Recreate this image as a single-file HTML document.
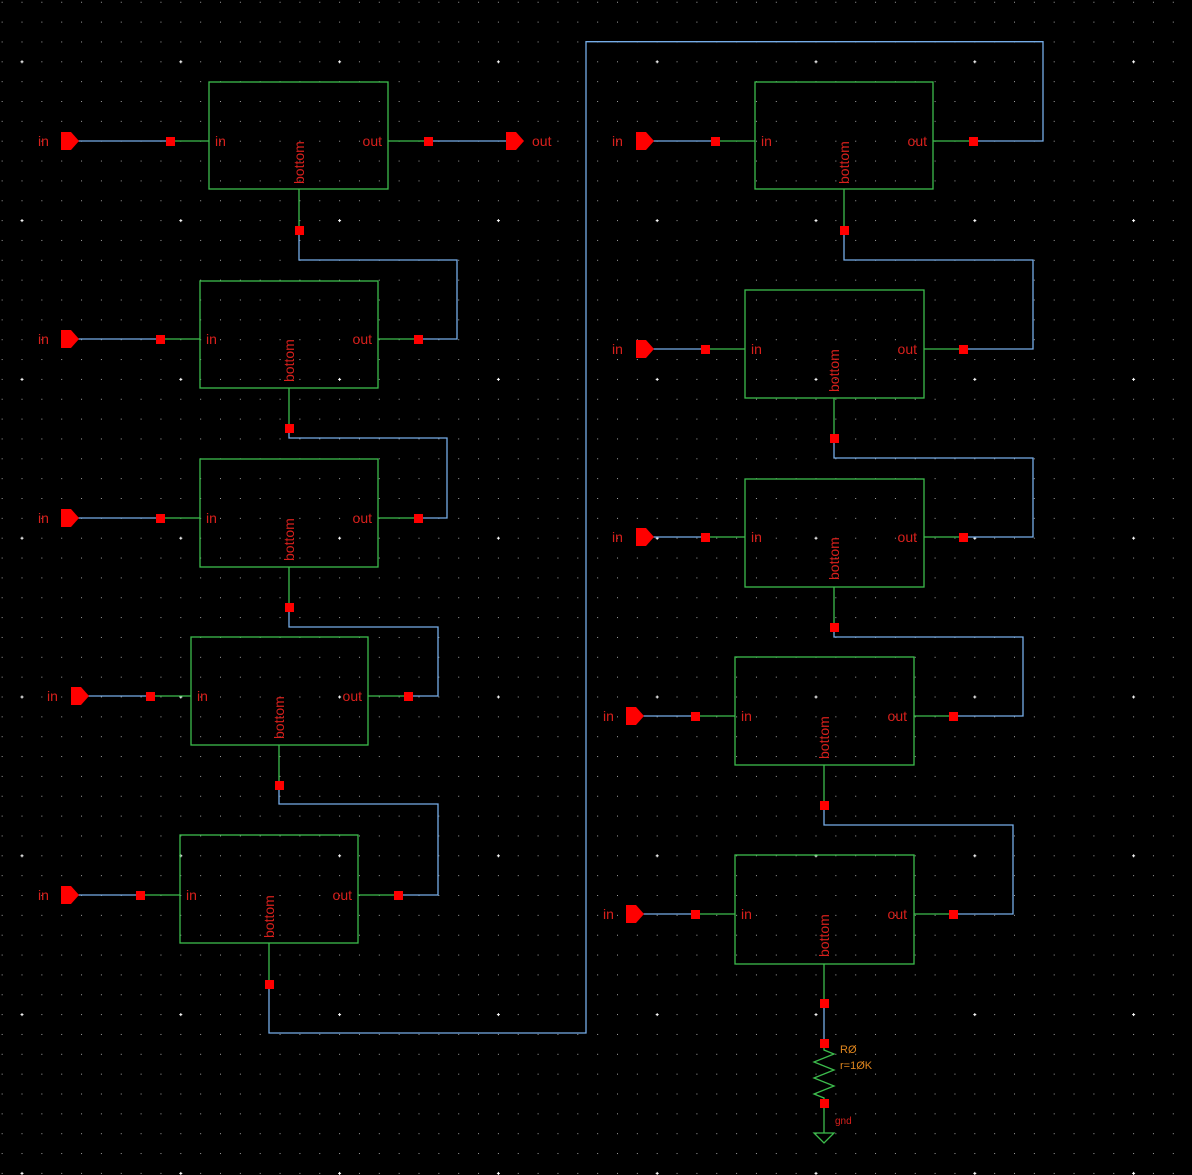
<!DOCTYPE html>
<html><head><meta charset="utf-8"><style>
html,body{margin:0;padding:0;background:#000;}
svg{display:block}
text{font-family:"Liberation Sans",sans-serif;font-size:14px;fill:#d8201c}
</style></head><body>
<svg width="1192" height="1175" viewBox="0 0 1192 1175" xmlns="http://www.w3.org/2000/svg">
<defs>
<pattern id="dots" x="21.5" y="1.75" width="19.85" height="19.85" patternUnits="userSpaceOnUse">
<rect x="0" y="0" width="1" height="1" fill="#a0a0a0"/>
</pattern>
<pattern id="plus" x="20.5" y="60.3" width="158.8" height="158.8" patternUnits="userSpaceOnUse">
<rect x="0" y="1" width="3" height="1" fill="#fff"/><rect x="1" y="0" width="1" height="3" fill="#fff"/>
</pattern>
</defs>
<rect width="1192" height="1175" fill="#000"/>
<rect width="1192" height="1175" fill="url(#dots)"/>
<rect width="1192" height="1175" fill="url(#plus)"/>

<g fill="none" stroke-width="1.3">
<g stroke="#76ade8">
<path d="M78 141H170M428 141H506"/>
<path d="M78 339H160M78 518H160M87 696H150M78 895H140"/>
<path d="M299 230V260H457V339H418"/>
<path d="M289 428V438H447V518H418"/>
<path d="M289 607V627H438V696H408"/>
<path d="M279 785V804H438V895H398"/>
<path d="M269 984V1033H586V41.7H1043V141H973"/>
<path d="M652 141H715M652 349H705M652 537H705M642 716H695M642 914H695"/>
<path d="M844 230V260H1033V349H963"/>
<path d="M834 438V458H1033V537H963"/>
<path d="M834 627V637H1023V716H953"/>
<path d="M824 805V825H1013V914H953"/>
<path d="M824 1003V1043"/>
</g>
<g stroke="#3cbc4c">
<rect x="209" y="82" width="179" height="107"/>
<rect x="200" y="281" width="178" height="107"/>
<rect x="200" y="459" width="178" height="108"/>
<rect x="191" y="637" width="177" height="108"/>
<rect x="180" y="835" width="178" height="108"/>
<rect x="755" y="82" width="178" height="107"/>
<rect x="745" y="290" width="179" height="108"/>
<rect x="745" y="479" width="179" height="108"/>
<rect x="735" y="657" width="179" height="108"/>
<rect x="735" y="855" width="179" height="109"/>
<path d="M170 141H209M388 141H428M299 189V230"/>
<path d="M160 339H200M378 339H418M289 388V428"/>
<path d="M160 518H200M378 518H418M289 567V607"/>
<path d="M150 696H191M368 696H408M279 745V785"/>
<path d="M140 895H180M358 895H398M269 943V984"/>
<path d="M715 141H755M933 141H973M844 189V230"/>
<path d="M705 349H745M924 349H963M834 398V438"/>
<path d="M705 537H745M924 537H963M834 587V627"/>
<path d="M695 716H735M914 716H953M824 765V805"/>
<path d="M695 914H735M914 914H953M824 964V1003"/>
<path d="M824 1043V1050L834 1054L814 1062L834 1070L814 1078L834 1086L814 1094L824 1098V1133"/>
<path d="M814 1133H834L824 1143Z"/>
</g>
</g>

<g fill="#ff0000">
<rect x="166" y="137" width="9" height="9"/><rect x="424" y="137" width="9" height="9"/><rect x="295" y="226" width="9" height="9"/>
<rect x="156" y="335" width="9" height="9"/><rect x="414" y="335" width="9" height="9"/><rect x="285" y="424" width="9" height="9"/>
<rect x="156" y="514" width="9" height="9"/><rect x="414" y="514" width="9" height="9"/><rect x="285" y="603" width="9" height="9"/>
<rect x="146" y="692" width="9" height="9"/><rect x="404" y="692" width="9" height="9"/><rect x="275" y="781" width="9" height="9"/>
<rect x="136" y="891" width="9" height="9"/><rect x="394" y="891" width="9" height="9"/><rect x="265" y="980" width="9" height="9"/>
<rect x="711" y="137" width="9" height="9"/><rect x="969" y="137" width="9" height="9"/><rect x="840" y="226" width="9" height="9"/>
<rect x="701" y="345" width="9" height="9"/><rect x="959" y="345" width="9" height="9"/><rect x="830" y="434" width="9" height="9"/>
<rect x="701" y="533" width="9" height="9"/><rect x="959" y="533" width="9" height="9"/><rect x="830" y="623" width="9" height="9"/>
<rect x="691" y="712" width="9" height="9"/><rect x="949" y="712" width="9" height="9"/><rect x="820" y="801" width="9" height="9"/>
<rect x="691" y="910" width="9" height="9"/><rect x="949" y="910" width="9" height="9"/><rect x="820" y="999" width="9" height="9"/>
<rect x="820" y="1039" width="9" height="9"/><rect x="820" y="1099" width="9" height="9"/>
<polygon points="61,132 71,132 79,141 71,150 61,150"/>
<polygon points="506,132 516,132 524,141 516,150 506,150"/>
<polygon points="61,330 71,330 79,339 71,348 61,348"/>
<polygon points="61,509 71,509 79,518 71,527 61,527"/>
<polygon points="71,687 81,687 89,696 81,705 71,705"/>
<polygon points="61,886 71,886 79,895 71,904 61,904"/>
<polygon points="636,132 646,132 654,141 646,150 636,150"/>
<polygon points="636,340 646,340 654,349 646,358 636,358"/>
<polygon points="636,528 646,528 654,537 646,546 636,546"/>
<polygon points="626,707 636,707 644,716 636,725 626,725"/>
<polygon points="626,905 636,905 644,914 636,923 626,923"/>
</g>

<g>
<text x="38" y="146">in</text><text x="532" y="146">out</text>
<text x="38" y="344">in</text><text x="38" y="523">in</text><text x="47" y="701">in</text><text x="38" y="900">in</text>
<text x="612" y="146">in</text><text x="612" y="354">in</text><text x="612" y="542">in</text><text x="603" y="721">in</text><text x="603" y="919">in</text>

<text x="215" y="146">in</text><text x="382" y="146" text-anchor="end">out</text>
<text x="206" y="344">in</text><text x="372" y="344" text-anchor="end">out</text>
<text x="206" y="523">in</text><text x="372" y="523" text-anchor="end">out</text>
<text x="197" y="701">in</text><text x="362" y="701" text-anchor="end">out</text>
<text x="186" y="900">in</text><text x="352" y="900" text-anchor="end">out</text>
<text x="761" y="146">in</text><text x="927" y="146" text-anchor="end">out</text>
<text x="751" y="354">in</text><text x="917" y="354" text-anchor="end">out</text>
<text x="751" y="542">in</text><text x="917" y="542" text-anchor="end">out</text>
<text x="741" y="721">in</text><text x="907" y="721" text-anchor="end">out</text>
<text x="741" y="919">in</text><text x="907" y="919" text-anchor="end">out</text>

<text transform="translate(304,184) rotate(-90)">bottom</text>
<text transform="translate(294,382) rotate(-90)">bottom</text>
<text transform="translate(294,561) rotate(-90)">bottom</text>
<text transform="translate(284,739) rotate(-90)">bottom</text>
<text transform="translate(274,938) rotate(-90)">bottom</text>
<text transform="translate(849,184) rotate(-90)">bottom</text>
<text transform="translate(839,392) rotate(-90)">bottom</text>
<text transform="translate(839,580) rotate(-90)">bottom</text>
<text transform="translate(829,759) rotate(-90)">bottom</text>
<text transform="translate(829,957) rotate(-90)">bottom</text>

<text x="840" y="1053" style="font-size:11px;fill:#e0861e">RØ</text>
<text x="840" y="1069" style="font-size:11px;fill:#e0861e">r=1ØK</text>
<text x="835" y="1124" style="font-size:10px">gnd</text>
</g>
</svg>
</body></html>
